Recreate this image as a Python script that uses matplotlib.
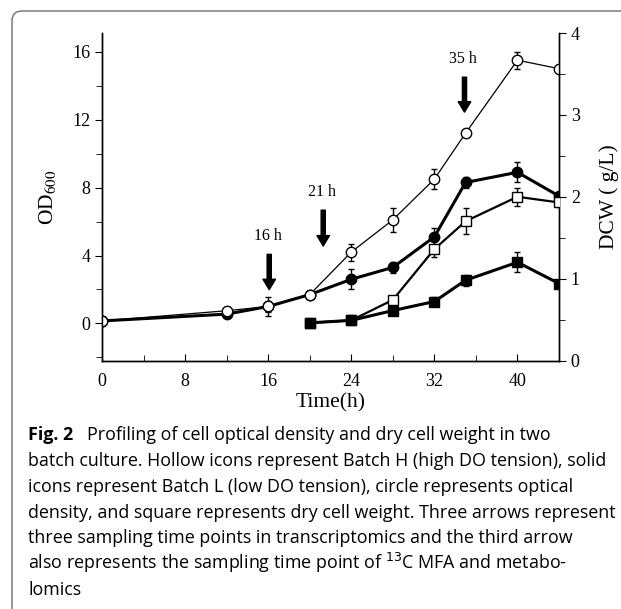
"""Growth profile (OD600 / DCW) for two batch cultures, with caption."""
import matplotlib
matplotlib.use("Agg")
import matplotlib.pyplot as plt
from matplotlib.patches import FancyBboxPatch
from matplotlib.ticker import MultipleLocator

SERIF = "Liberation Serif"
SANS = "Open Sans"

# OD600 (left axis), circles
od_time = [0, 12, 16, 20, 24, 28, 32, 35, 40, 44]
od_high = [0.15, 0.75, 1.0, 1.7, 4.2, 6.1, 8.5, 11.2, 15.5, 15.0]
od_high_err = [0.3, 0.2, 0.55, 0.15, 0.5, 0.7, 0.6, 0.15, 0.5, 0.2]
od_low = [0.15, 0.55, 1.0, 1.7, 2.6, 3.3, 5.1, 8.3, 8.9, 7.5]
od_low_err = [0.1, 0.15, 0.3, 0.15, 0.6, 0.3, 0.5, 0.35, 0.6, 0.2]

# DCW (right axis), squares
dcw_time = [20, 24, 28, 32, 35, 40, 44]
dcw_high = [0.46, 0.49, 0.74, 1.36, 1.70, 2.00, 1.93]
dcw_high_err = [0.02, 0.02, 0.05, 0.1, 0.16, 0.11, 0.05]
dcw_low = [0.46, 0.49, 0.61, 0.72, 0.98, 1.20, 0.94]
dcw_low_err = [0.03, 0.03, 0.04, 0.05, 0.07, 0.12, 0.04]

# sampling arrows: (time, label)
arrow_time = [16.1, 21.3, 34.9]
arrow_labels = ["16 h", "21 h", "35 h"]
arrow_top = [4.07, 6.67, 14.5]
arrow_tip = [1.99, 4.56, 12.44]

caption_lines = [
    "batch culture. Hollow icons represent Batch H (high DO tension), solid",
    "icons represent Batch L (low DO tension), circle represents optical",
    "density, and square represents dry cell weight. Three arrows represent",
    "three sampling time points in transcriptomics and the third arrow",
    r"also represents the sampling time point of $^{13}$C MFA and metabo-",
    "lomics",
]

W, H = 621, 609
fig = plt.figure(figsize=(W / 100, H / 100), dpi=100)

# rounded frame (only top/left visible in the crop)
frame = FancyBboxPatch((12 / 100, -1.0), 8.0, (H - 11) / 100 + 1.0,
                       boxstyle="round,pad=0,rounding_size=0.1",
                       transform=fig.dpi_scale_trans, fill=False,
                       edgecolor="#7a7a7a", lw=1.1)
fig.patches.append(frame)

ax = fig.add_axes([102 / W, 1 - 360.5 / H, (559 - 102) / W, (360.5 - 33) / H])
ax2 = ax.twinx()

# circles on the left axis: solid first, hollow on top
ax.errorbar(od_time, od_low, yerr=od_low_err, color="black", lw=2.2,
            marker="o", ms=7.5, mfc="black", mec="black",
            capsize=2.5, elinewidth=1, capthick=1, zorder=3)
ax.errorbar(od_time, od_high, yerr=od_high_err, color="black", lw=0.9,
            marker="o", ms=7.5, mfc="white", mec="black", mew=1,
            capsize=2.5, elinewidth=1, capthick=1, zorder=4)

# squares on the right axis
ax2.errorbar(dcw_time, dcw_high, yerr=dcw_high_err, color="black", lw=1.6,
             marker="s", ms=6.5, mfc="white", mec="black", mew=1,
             capsize=2.5, elinewidth=1, capthick=1, zorder=3)
ax2.errorbar(dcw_time, dcw_low, yerr=dcw_low_err, color="black", lw=2.2,
             marker="s", ms=6.5, mfc="black", mec="black",
             capsize=2.5, elinewidth=1, capthick=1, zorder=4)

for t, lab, y0, y1 in zip(arrow_time, arrow_labels, arrow_top, arrow_tip):
    ax.annotate("", xy=(t, y1), xytext=(t, y0),
                arrowprops=dict(facecolor="black", edgecolor="black",
                                width=3, headwidth=9, headlength=7.5,
                                shrink=0))
    ax.text(t - 0.15, y0 + 1.05, lab, ha="center", va="center",
            fontsize=11.5, family=SERIF)

ax.set_xlim(0, 44)
ax.set_ylim(-2.18, 17.1)
ax2.set_ylim(0, 4)
ax.xaxis.set_major_locator(MultipleLocator(8))
ax.xaxis.set_minor_locator(MultipleLocator(4))
ax.yaxis.set_major_locator(MultipleLocator(4))
ax.yaxis.set_minor_locator(MultipleLocator(2))
ax2.yaxis.set_major_locator(MultipleLocator(1))
ax2.yaxis.set_minor_locator(MultipleLocator(0.5))

for a in (ax, ax2):
    a.spines["top"].set_visible(False)
    for s in a.spines.values():
        s.set_linewidth(1.0)
ax.tick_params(axis="x", which="both", direction="in", top=False,
               labelsize=13, pad=9)
ax.tick_params(axis="x", which="major", length=5)
ax.tick_params(axis="x", which="minor", length=4)
ax.tick_params(axis="y", which="both", direction="out", labelsize=13)
ax.tick_params(axis="y", which="major", length=5)
ax.tick_params(axis="y", which="minor", length=4)
ax2.tick_params(axis="y", which="both", direction="out", labelsize=13)
ax2.tick_params(axis="y", which="major", length=5)
ax2.tick_params(axis="y", which="minor", length=4)
for lbl in ax.get_xticklabels() + ax.get_yticklabels() + ax2.get_yticklabels():
    lbl.set_family(SERIF)

ax.set_xlabel("Time(h)", family=SERIF, fontsize=15.5, labelpad=2)
ax.set_ylabel(r"OD$_{600}$", family=SERIF, fontsize=15.5, labelpad=10,
              math_fontfamily="stix")
ax2.set_ylabel("DCW ( g/L)", family=SERIF, fontsize=15.5, labelpad=14)

# caption
cap_size = 12.85
fig.text(28 / W, 1 - 440 / H, "Fig. 2", family=SANS, fontweight="bold",
         fontsize=cap_size, va="baseline")
fig.text(87 / W, 1 - 440 / H,
         "Profiling of cell optical density and dry cell weight in two",
         family=SANS, fontsize=cap_size, va="baseline")
for i, line in enumerate(caption_lines):
    x0 = 27.5 if "$" in line else 28
    fig.text(x0 / W, 1 - (466 + 25.8 * i) / H, line, family=SANS,
             fontsize=cap_size, va="baseline", math_fontfamily="dejavusans")

fig.savefig("out.png", dpi=100)
